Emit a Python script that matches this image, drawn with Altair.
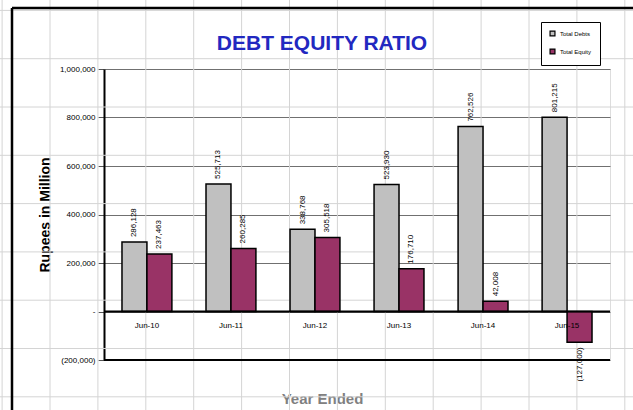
import altair as alt
import pandas as pd

years = ["Jun-10", "Jun-11", "Jun-12", "Jun-13", "Jun-14", "Jun-15"]
total_debts = [286128, 525713, 338768, 523930, 762526, 801215]
total_equity = [237463, 260285, 305518, 176710, 42008, -127000]
series = ["Total Debts", "Total Equity"]
series_colors = ["#c0c0c0", "#993366"]
y_ticks = [-200000, 0, 200000, 400000, 600000, 800000, 1000000]

rows = []
for i, yr in enumerate(years):
    rows.append({"year": yr, "series": series[0], "value": total_debts[i]})
    rows.append({"year": yr, "series": series[1], "value": total_equity[i]})
df = pd.DataFrame(rows)
years_df = pd.DataFrame({"year": years})
one = pd.DataFrame({"k": [0]})

FONT = "Liberation Sans"
W, H = 506, 291
L, T = 104, 69

# spreadsheet cell grid behind the chart (decoration)
vgrid = alt.Chart(alt.sequence(-1, 13, 1)).transform_calculate(
    px=f"50 - {L} + 47.9 * datum.data"
).mark_rule(color="#d4d4d4", strokeWidth=1).encode(
    x=alt.X("px:Q", scale=None), y=alt.value(-T), y2=alt.value(410 - T)
)
hgrid = alt.Chart(alt.sequence(-2, 7, 1)).transform_calculate(
    py=f"107 - {T} + 48.3 * datum.data"
).mark_rule(color="#d4d4d4", strokeWidth=1).encode(
    y=alt.Y("py:Q", scale=None), x=alt.value(-L), x2=alt.value(633 - L)
)
frame_left = alt.Chart(one).mark_rule(color="black", strokeWidth=2.5).encode(
    x=alt.value(12 - L), y=alt.value(8 - T), y2=alt.value(410 - T)
)
frame_top = alt.Chart(one).mark_rule(color="black", strokeWidth=2.5).encode(
    y=alt.value(8 - T), x=alt.value(12 - L), x2=alt.value(633 - L)
)

xscale = alt.Scale(domain=years, paddingInner=0.406, paddingOuter=0.214)
yscale = alt.Scale(domain=[-200000, 1000000], nice=False, zero=False)

bars = alt.Chart(df).mark_bar(stroke="black", strokeWidth=1.5).encode(
    x=alt.X("year:N", sort=years, scale=xscale,
            axis=alt.Axis(labels=False, ticks=False, domain=False, grid=False,
                          title="Year Ended", titleFont=FONT, titleFontSize=15,
                          titleFontWeight="bold", titleColor="#808080",
                          titleX=218, titleY=43, titleBaseline="alphabetic",
                          titleAlign="center", titleAnchor="start")),
    xOffset=alt.XOffset("series:N", sort=series,
                        scale=alt.Scale(domain=series, paddingInner=0, paddingOuter=0)),
    y=alt.Y("value:Q", scale=yscale,
            axis=alt.Axis(values=y_ticks, grid=True, gridColor="#707070", gridWidth=1.2,
                          domain=True, domainColor="black", domainWidth=2,
                          ticks=True, tickColor="#555555", tickSize=6,
                          labelFont=FONT, labelFontSize=8, labelColor="black", labelPadding=3,
                          labelExpr="datum.value == 0 ? '-' : (datum.value < 0 ? '(' + format(-datum.value, ',') + ')' : format(datum.value, ','))",
                          title="Rupees in Million", titleFont=FONT, titleFontSize=14,
                          titleFontWeight="bold", titleColor="black",
                          titleX=-59, titleY=H / 2, titleAngle=-90,
                          titleBaseline="middle", titleAlign="center")),
    color=alt.Color("series:N", sort=series,
                    scale=alt.Scale(domain=series, range=series_colors),
                    legend=alt.Legend(title=None, orient="none", legendX=437, legendY=-47,
                                      strokeColor="black", fillColor="white", padding=8,
                                      symbolType="square", symbolSize=24,
                                      symbolStrokeColor="black", symbolStrokeWidth=1.2,
                                      labelFont=FONT, labelFontSize=6, rowPadding=7,
                                      labelColor="black")),
)

zero_line = alt.Chart(one).mark_rule(color="black", strokeWidth=2).encode(y=alt.datum(0, scale=yscale))
bottom_line = alt.Chart(one).mark_rule(color="black", strokeWidth=2).encode(y=alt.datum(-200000, scale=yscale))

lab_expr = "datum.value < 0 ? '(' + format(-datum.value, ',') + ')' : format(datum.value, ',')"
lab_base = alt.Chart(df).transform_calculate(lab=lab_expr)
lab_enc = dict(
    x=alt.X("year:N", sort=years, scale=xscale),
    xOffset=alt.XOffset("series:N", sort=series),
    y=alt.Y("value:Q", scale=yscale),
    text="lab:N",
)
pos_labels = lab_base.transform_filter("datum.value >= 0").mark_text(
    angle=270, align="left", baseline="middle", dx=5, font=FONT, fontSize=8, color="black"
).encode(**lab_enc)
neg_labels = lab_base.transform_filter("datum.value < 0").mark_text(
    angle=270, align="right", baseline="middle", dx=-5, font=FONT, fontSize=8, color="black"
).encode(**lab_enc)

cat_labels = alt.Chart(years_df).mark_text(
    font=FONT, fontSize=8, color="black", baseline="middle", dy=14
).encode(x=alt.X("year:N", sort=years, scale=xscale), y=alt.datum(0, scale=yscale), text="year:N")

title = alt.Chart(one).mark_text(
    text="DEBT EQUITY RATIO", font=FONT, fontSize=21, fontWeight="bold",
    color="#2228c0", align="center", baseline="alphabetic"
).encode(x=alt.value(322 - L), y=alt.value(50 - T))

main = alt.layer(bars, bottom_line, zero_line, pos_labels, neg_labels, cat_labels)

chart = alt.layer(vgrid, hgrid, frame_left, frame_top, main, title).properties(
    width=W, height=H,
    autosize=alt.AutoSizeParams(type="none"),
    padding={"left": L, "top": T, "right": 633 - L - W, "bottom": 410 - T - H},
).configure_view(stroke=None).configure(background="white", font=FONT)

chart.save("out.html", embed_options={"renderer": "svg", "actions": False})
